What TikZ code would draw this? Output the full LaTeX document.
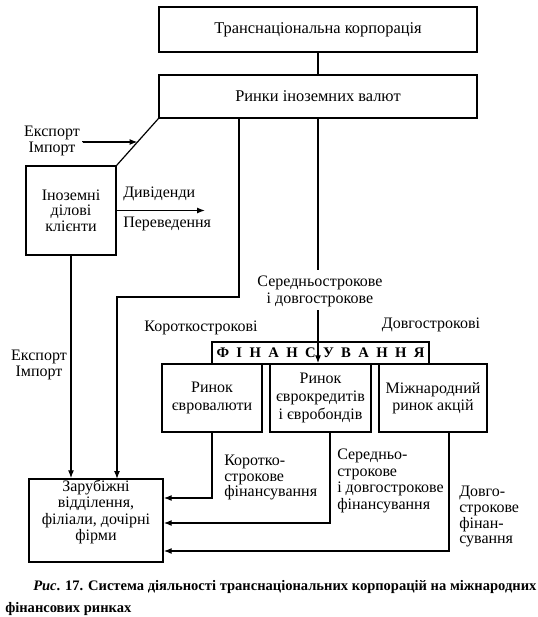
\documentclass[tikz,border=0pt]{standalone}
\usepackage{fontspec}
\setmainfont{Liberation Serif}
\usetikzlibrary{arrows.meta,calc}
\begin{document}
\begin{tikzpicture}[x=0.75pt,y=-0.75pt,
  font=\fontsize{12}{12}\selectfont,
  box/.style={draw, line width=1.1pt, inner sep=0pt, align=center},
  wh/.style 2 args={minimum width=#1*0.75pt, minimum height=#2*0.75pt},
  ln/.style={line width=0.9pt},
  arr/.style={ln, -{Latex[length=6pt,width=4.5pt]}},
  lbl/.style={inner sep=0pt, align=left, anchor=west},
  clbl/.style={inner sep=0pt, align=center}]
\useasboundingbox (0,0) rectangle (538,617);

% boxes
\node[box, wh={318}{45}, font=\fontsize{12.3}{12}\selectfont] (tnk) at (318,29.5) {Транснаціональна корпорація};
\node[box, wh={318}{43}, font=\fontsize{12.3}{12}\selectfont] (rin) at (318,96.5) {Ринки іноземних валют};
\node[box, wh={90}{89}, font=\fontsize{12}{11.6}\selectfont] (ino) at (71,210.5) {Іноземні\\ділові\\клієнти};
\node[box, wh={134}{83}] (zar) at (96,520.5) {};
\node[clbl, font=\fontsize{12}{12.2}\selectfont] (zart) at (96,512) {Зарубіжні\\відділення,\\філіали, дочірні\\фірми};
\node[box, wh={217}{22}] (fin) at (320.5,353) {};
\node[inner sep=0pt, font=\bfseries\fontsize{11}{12}\selectfont] (fint) at (fin.center)
  {\makebox[208\dimexpr0.75pt\relax][s]{Ф\hfill І\hfill Н\hfill А\hfill Н\hfill С\hfill У\hfill В\hfill А\hfill Н\hfill Н\hfill Я}};
\node[box, wh={100}{68}, font=\fontsize{12}{13.5}\selectfont] (ra) at (212,398) {Ринок\\євровалюти};
\node[box, wh={101}{68}, font=\fontsize{12}{13.2}\selectfont] (rb) at (320.5,398) {Ринок\\єврокредитів\\і євробондів};
\node[box, wh={108}{68}, font=\fontsize{12}{12.8}\selectfont] (rc) at (433,398) {Міжнародний\\ринок акцій};

% coordinates
\coordinate (ei) at ($(rin.south west)!0.5!(ino.north east)$);
\coordinate (eis) at (83,142);
\coordinate (div) at (205,209);
\coordinate (k1) at (239,297);
\coordinate (z2) at (117,479);
\coordinate (s1) at (318,270);
\coordinate (s2) at (318,310);
\coordinate (a1) at (212,498);
\coordinate (b1) at (330,523);
\coordinate (c1) at (449,551);

% connectors
\draw[ln] (tnk) -- (rin);
\draw[ln] (rin.south west) -- (ino.north east);
\draw[arr] (eis) -- (ei -| eis) -- (ei);
\draw[arr] (ino.east) -- (ino.east -| div);
\draw[arr] (ino.south) -- (ino.south |- zar.north);
\draw[arr] (k1 |- rin.south) -- (k1) -| (z2);
\draw[ln] (rin.south -| s1) -- (s1);
\draw[arr] (s2) -- (s2 |- rb.north);
\draw[arr] (a1 |- ra.south) -- (a1) -- (a1 -| zar.east);
\draw[arr] (b1 |- rb.south) -- (b1) -- (b1 -| zar.east);
\draw[arr] (c1 |- rc.south) -- (c1) -- (c1 -| zar.east);

% labels
\node[clbl, font=\fontsize{12}{12}\selectfont] (eil) at (52,141) {Експорт\\Імпорт};
\node[lbl, anchor=base west] (divl) at (123,197) {Дивіденди};
\node[lbl, anchor=base west] (perl) at (123,227) {Переведення};
\node[clbl, font=\fontsize{12}{12}\selectfont] (eil2) at (39,365) {Експорт\\Імпорт};
\node[clbl, font=\fontsize{12}{12.75}\selectfont] (sdl) at (320,291) {Середньострокове\\і довгострокове};
\node[clbl] (krl) at (201,328) {Короткострокові};
\node[clbl] (dvl) at (431,325) {Довгострокові};
\node[lbl, anchor=north west, font=\fontsize{12}{11.6}\selectfont] (kfl) at (224,455) {Коротко-\\строкове\\фінансування};
\node[lbl, anchor=north west, font=\fontsize{12}{12.4}\selectfont] (sfl) at (337,449) {Середньо-\\строкове\\і довгострокове\\фінансування};
\node[lbl, anchor=north west, font=\fontsize{12}{11.8}\selectfont] (dfl) at (459,486) {Довго-\\строкове\\фінан-\\сування};

% caption
\node[inner sep=0pt, anchor=north west, align=left, font=\bfseries\fontsize{10.9}{16.5}\selectfont] (cap) at (5,580)
  {\hspace*{21pt}\textit{Рис}. 17. Система діяльності транснаціональних корпорацій на міжнародних\\фінансових ринках};
\end{tikzpicture}
\end{document}
